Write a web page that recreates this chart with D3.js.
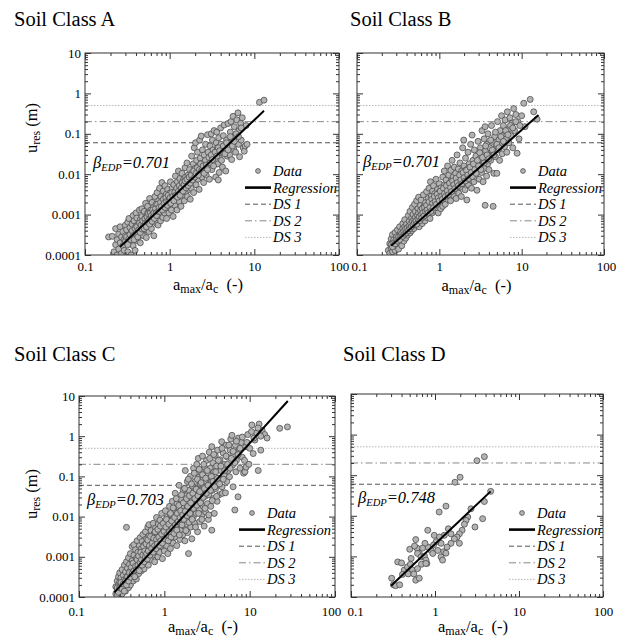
<!DOCTYPE html>
<html>
<head>
<meta charset="utf-8">
<script src="https://cdn.jsdelivr.net/npm/d3@7"></script>
<style>
  body { margin: 0; background: #fff; }
  svg { display: block; }
  svg text { font-family: "Liberation Serif", "Tinos", "Times New Roman", "DejaVu Serif", serif !important; }
</style>
</head>
<body>
<svg id="chart" width="625" height="640"></svg>
<script>
// ---- data ----
const panelNames = ["Soil Class A", "Soil Class B", "Soil Class C", "Soil Class D"];
const betaValues = ["0.701", "0.701", "0.703", "0.748"];
const xTickVals = [0.1, 1, 10, 100];
const xTickText = ["0.1", "1", "10", "100"];
const yTickVals = [0.0001, 0.001, 0.01, 0.1, 1, 10];
const yTickText = ["0.0001", "0.001", "0.01", "0.1", "1", "10"];
const dsLevels = [0.06, 0.2, 0.5];
const legendNames = ["Data", "Regression", "DS 1", "DS 2", "DS 3"];

// regression lines: [start, end]
const regA = [[0.26, 0.00016], [13, 0.37]];
const regB = [[0.26, 0.00017], [16, 0.29]];
const regC = [[0.26, 0.00013], [28, 7.5]];
const regD = [[0.30, 0.00019], [4.6, 0.04]];

const pointsA = [
  [0.19,0.00028],[0.21,0.00029],[0.22,0.00012],[0.23,0.00018],[0.23,0.00045],[0.24,0.0001],[0.24,0.00024],[0.25,0.00033],
  [0.25,0.00014],[0.26,0.0005],[0.26,0.0002],[0.27,0.00011],[0.27,0.00028],[0.28,0.00017],[0.28,0.00038],[0.29,0.00024],
  [0.29,0.00013],[0.3,0.00055],[0.3,0.0003],
  [0.31,0.0002],[0.31,0.00042],[0.32,0.00065],[0.32,0.00012],[0.33,0.00031],[0.33,0.0008],[0.34,0.00022],[0.34,0.00048],
  [0.35,0.0001],[0.35,0.00036],[0.36,0.00058],[0.36,0.00026],[0.37,0.00095],[0.37,0.00017],[0.38,0.0004],[0.38,0.0007],
  [0.39,0.0003],[0.39,0.00013],[0.4,0.00052],[0.4,0.0011],[0.41,0.00023],[0.41,0.00082],[0.42,0.00038],[0.43,0.0006],
  [0.43,0.00028],[0.44,0.0013],[0.44,0.00045],[0.45,0.00075],[0.45,0.0002],
  [0.46,0.00035],[0.47,0.0009],[0.47,0.0014],[0.48,0.00055],[0.49,0.0003],[0.5,0.0012],[0.5,0.00068],[0.51,0.00042],
  [0.52,0.0019],[0.52,0.00085],[0.53,0.00027],[0.54,0.0005],[0.55,0.0011],[0.55,0.0016],[0.56,0.0007],[0.57,0.00038],
  [0.58,0.0025],[0.58,0.00092],[0.59,0.0006],[0.6,0.0013],[0.61,0.00045],[0.62,0.002],[0.62,0.001],[0.63,0.00075],
  [0.64,0.0015],[0.65,0.0003],[0.66,0.0012],[0.67,0.0028],[0.68,0.0009],[0.69,0.0018],[0.7,0.0006],
  [0.71,0.0035],[0.72,0.0014],[0.73,0.00055],[0.74,0.0022],[0.75,0.001],[0.76,0.0045],[0.77,0.0017],[0.78,0.0007],
  [0.79,0.0028],[0.8,0.0013],[0.81,0.0062],[0.82,0.002],[0.83,0.00085],[0.84,0.0038],[0.85,0.0016],[0.86,0.0025],
  [0.87,0.0011],[0.88,0.0052],[0.9,0.0019],[0.91,0.0032],[0.92,0.0008],[0.94,0.0014],[0.95,0.0042],[0.96,0.0024],
  [0.98,0.0011],[1.0,0.0034],[1.0,0.0018],[1.02,0.0065],[1.04,0.0027],[1.05,0.0013],[1.07,0.0045],[1.08,0.002],[1.1,0.0009],
  [1.12,0.0055],[1.13,0.0028],[1.15,0.0017],[1.17,0.009],[1.18,0.004],[1.2,0.0024],[1.22,0.0013],[1.23,0.0065],
  [1.25,0.0034],[1.27,0.012],[1.29,0.0048],[1.3,0.0021],[1.32,0.0078],[1.34,0.0039],[1.36,0.0016],[1.38,0.0058],
  [1.4,0.0105],[1.42,0.003],[1.45,0.0072],[1.47,0.0046],[1.49,0.0022],[1.52,0.0145],[1.54,0.0085],[1.56,0.0036],
  [1.58,0.0055],[1.6,0.019],[1.62,0.0028],[1.65,0.0095],[1.67,0.0065],[1.7,0.0042],[1.72,0.013],[1.75,0.0024],[1.78,0.0078],
  [1.8,0.0045],[1.82,0.028],[1.85,0.011],[1.88,0.0068],[1.9,0.018],[1.92,0.0035],[1.95,0.045],[1.97,0.009],[2.0,0.014],
  [2.02,0.06],[2.05,0.0055],[2.08,0.022],[2.1,0.011],[2.13,0.035],[2.16,0.0075],[2.2,0.016],[2.23,0.0042],[2.26,0.07],
  [2.3,0.025],[2.33,0.012],[2.36,0.088],[2.4,0.0085],[2.44,0.04],[2.48,0.019],[2.52,0.0062],[2.56,0.03],[2.6,0.014],
  [2.65,0.055],[2.7,0.0095],[2.75,0.022],[2.8,0.095],[2.85,0.035],[2.9,0.016],[2.95,0.0075],
  [3.0,0.05],[3.05,0.028],[3.1,0.1],[3.15,0.013],[3.2,0.07],[3.25,0.04],[3.3,0.02],[3.35,0.12],[3.4,0.033],[3.5,0.0085],
  [3.55,0.06],[3.6,0.11],[3.65,0.045],[3.7,0.018],[3.75,0.0072],[3.8,0.08],[3.85,0.011],[3.9,0.025],[4.0,0.14],[4.05,0.055],
  [4.1,0.035],[4.2,0.015],[4.3,0.09],[4.4,0.165],[4.5,0.045],[4.6,0.012],[4.7,0.07],[4.8,0.028],[4.9,0.18],
  [5.0,0.06],[5.1,0.03],[5.2,0.11],[5.3,0.2],[5.4,0.023],[5.5,0.075],[5.6,0.27],[5.7,0.042],[5.8,0.15],[5.9,0.09],
  [6.0,0.035],[6.2,0.22],[6.4,0.33],[6.5,0.055],[6.6,0.12],[6.7,0.027],[6.9,0.18],[7.0,0.07],[7.2,0.25],[7.4,0.045],
  [7.6,0.037],[7.8,0.05],[8.0,0.16],[8.2,0.055],[11.5,0.6],[13,0.68],
  [0.3,0.00022],[0.31,0.00028],[0.32,0.00018],[0.33,0.00025],[0.34,0.00032],[0.35,0.00024],[0.36,0.0004],[0.37,0.0003],
  [0.38,0.00024],[0.39,0.00045],[0.4,0.00034],[0.41,0.0005],[0.42,0.00028],[0.43,0.00042],[0.44,0.00062],[0.45,0.00036],
  [0.46,0.00055],[0.47,0.00044],[0.48,0.0007],[0.49,0.00052],[0.5,0.00045],[0.51,0.00078],[0.52,0.00062],[0.53,0.0005],
  [0.54,0.00088],[0.55,0.00066],[0.56,0.00105],[0.57,0.00075],[0.58,0.00058],[0.59,0.0011],[0.6,0.0008],[0.61,0.00095],
  [0.62,0.00068],[0.63,0.0013],[0.64,0.00088],[0.65,0.0011],[0.66,0.0008],[0.68,0.0014],[0.69,0.0011],[0.7,0.00095],
  [0.72,0.0018],[0.73,0.0012],[0.75,0.0015],[0.76,0.0012],[0.78,0.002],[0.8,0.0016],[0.82,0.0013],[0.84,0.0024],
  [0.86,0.0019],[0.88,0.0015],[0.9,0.0026],[0.92,0.0021],[0.94,0.0017],[0.96,0.003],[0.98,0.0022],[1.01,0.0026],
  [1.03,0.0019],[1.06,0.0035],[1.09,0.0028],[1.12,0.0022],[1.15,0.0036],[1.18,0.003],[1.21,0.0045],[1.24,0.0027],
  [1.27,0.0038],[1.3,0.0052],[1.33,0.003],[1.37,0.0045],[1.41,0.0062],[1.44,0.0038],[1.48,0.0055],[1.52,0.0068],
  [1.56,0.0046],[1.6,0.0075],[1.65,0.0052],[1.7,0.0085],[1.75,0.006],[1.8,0.0095],[1.86,0.0072],[1.92,0.012],
  [1.98,0.0085],[2.05,0.0105],[2.12,0.0145],[2.18,0.0095],[2.25,0.013],[2.32,0.018],[2.4,0.0125],[2.48,0.016],
  [2.56,0.0105],[2.64,0.022],[2.72,0.017],[2.8,0.013],[2.9,0.026],[3.0,0.019],[3.1,0.03],[3.2,0.023],[3.3,0.016],
  [3.45,0.035],[3.6,0.028],[3.75,0.045],[3.9,0.038],[4.1,0.022],[4.3,0.05],[4.5,0.032],[4.7,0.06],[4.9,0.04],
  [5.2,0.085],[5.5,0.05],[5.8,0.065],[6.1,0.1],[6.5,0.085],[7.0,0.14]
];

const pointsB = [
  [0.24,0.00013],[0.25,0.00011],[0.25,0.00019],[0.26,0.00015],[0.26,0.00025],[0.27,0.00012],[0.27,0.0002],[0.27,0.00032],
  [0.28,0.00016],[0.28,0.00024],[0.29,0.00013],[0.29,0.00036],[0.3,0.0002],[0.3,0.00028],[0.31,0.00017],[0.31,0.00042],
  [0.32,0.00023],[0.32,0.00014],[0.33,0.00031],[0.33,0.0005],[0.34,0.00021],[0.34,0.00038],[0.35,0.00027],[0.35,0.00017],
  [0.36,0.00045],[0.36,0.0006],[0.37,0.00032],[0.37,0.00022],[0.38,0.0005],[0.38,0.00075],[0.39,0.00036],[0.39,0.00026],
  [0.4,0.00058],[0.4,0.00042],
  [0.41,0.00031],[0.42,0.00095],[0.42,0.00048],[0.43,0.00068],[0.44,0.00035],[0.44,0.0012],[0.45,0.00055],[0.46,0.00082],
  [0.46,0.0004],[0.47,0.0015],[0.48,0.00062],[0.48,0.001],[0.49,0.00045],[0.5,0.0018],[0.5,0.00072],[0.51,0.0012],
  [0.52,0.00055],[0.53,0.0009],[0.53,0.0022],[0.54,0.00065],[0.55,0.0014],[0.56,0.0027],[0.56,0.00085],[0.57,0.0005],
  [0.58,0.0011],[0.59,0.0017],[0.6,0.00075],[0.6,0.0023],[0.61,0.0013],[0.62,0.0006],[0.63,0.00095],[0.64,0.0031],
  [0.65,0.0016],[0.66,0.0011],[0.67,0.0007],[0.68,0.002],[0.69,0.0013],[0.7,0.0037],[0.7,0.00085],
  [0.72,0.0016],[0.73,0.0025],[0.74,0.0011],[0.75,0.0045],[0.76,0.0019],[0.77,0.0008],[0.78,0.0065],[0.79,0.0014],
  [0.8,0.0029],[0.81,0.0021],[0.82,0.0011],[0.83,0.0038],[0.84,0.0017],[0.85,0.0052],[0.86,0.0025],[0.87,0.0013],
  [0.88,0.0033],[0.9,0.002],[0.91,0.0075],[0.92,0.0028],[0.93,0.0015],[0.95,0.0042],[0.96,0.0023],[0.97,0.0011],
  [0.98,0.0035],[1.0,0.0019],[1.0,0.0058],[1.02,0.0027],[1.04,0.0014],[1.05,0.0046],[1.06,0.0033],[1.08,0.0021],
  [1.1,0.0085],[1.1,0.0016],
  [1.12,0.0038],[1.13,0.0025],[1.15,0.012],[1.16,0.0055],[1.18,0.0018],[1.2,0.0032],[1.21,0.0072],[1.23,0.0045],
  [1.25,0.0024],[1.26,0.016],[1.28,0.0036],[1.3,0.0095],[1.31,0.0058],[1.33,0.0028],[1.35,0.0042],[1.37,0.0022],
  [1.38,0.0125],[1.4,0.0068],[1.42,0.0035],[1.43,0.022],[1.45,0.0052],[1.47,0.0085],[1.49,0.003],[1.5,0.0046],
  [1.52,0.015],[1.54,0.0065],[1.56,0.0039],[1.58,0.0105],[1.6,0.0025],[1.62,0.0056],[1.64,0.03],[1.66,0.0078],
  [1.68,0.0045],[1.7,0.0135],[1.72,0.0034],[1.75,0.0065],[1.78,0.019],[1.8,0.0095],
  [1.82,0.0048],[1.85,0.0028],[1.87,0.012],[1.9,0.0075],[1.92,0.045],[1.95,0.0058],[1.98,0.07],[2.0,0.016],[2.02,0.0092],
  [2.05,0.0041],[2.08,0.025],[2.1,0.0068],[2.13,0.013],[2.16,0.0023],[2.2,0.0088],[2.23,0.035],[2.26,0.0055],[2.3,0.018],
  [2.33,0.011],[2.36,0.0072],[2.4,0.055],[2.43,0.015],[2.46,0.0045],[2.5,0.093],[2.53,0.0095],[2.56,0.022],[2.6,0.0125],
  [2.63,0.0065],[2.66,0.04],[2.7,0.016],[2.74,0.0085],[2.78,0.028],[2.82,0.011],[2.86,0.004],[2.9,0.019],[2.95,0.065],[3.0,0.0135],
  [3.05,0.0075],[3.1,0.024],[3.15,0.045],[3.2,0.017],[3.25,0.011],[3.3,0.12],[3.35,0.032],[3.4,0.0065],[3.45,0.021],
  [3.5,0.075],[3.55,0.014],[3.6,0.0017],[3.6,0.15],[3.65,0.038],[3.7,0.026],[3.75,0.009],[3.8,0.055],[3.85,0.018],
  [3.9,0.1],[3.95,0.03],[4.0,0.013],[4.1,0.045],[4.2,0.022],[4.3,0.16],[4.4,0.065],[4.5,0.0016],[4.5,0.035],[4.6,0.0105],
  [4.7,0.085],[4.8,0.027],[4.9,0.05],[5.0,0.0105],
  [5.1,0.2],[5.2,0.04],[5.3,0.07],[5.4,0.022],[5.5,0.12],[5.6,0.055],[5.7,0.28],[5.8,0.032],[5.9,0.09],[6.0,0.16],
  [6.2,0.048],[6.3,0.22],[6.5,0.075],[6.6,0.035],[6.7,0.35],[6.9,0.13],[7.0,0.06],[7.2,0.25],[7.4,0.09],[7.6,0.18],
  [7.8,0.045],[8.0,0.42],[8.2,0.12],[8.5,0.3],[8.8,0.033],[9.0,0.2],[9.3,0.075],
  [10,0.28],[10.6,0.57],[11,0.15],[12.7,0.71],[14,0.35],[15.4,0.23],
  [0.26,0.00018],[0.27,0.00016],[0.28,0.0002],[0.29,0.00019],[0.3,0.00024],[0.31,0.00022],[0.32,0.00028],[0.33,0.00024],
  [0.34,0.0003],[0.35,0.00034],[0.36,0.00029],[0.37,0.00038],[0.38,0.00033],[0.39,0.00044],[0.4,0.00036],[0.41,0.00048],
  [0.42,0.0004],[0.43,0.00052],[0.44,0.00045],[0.45,0.0006],[0.46,0.0005],[0.47,0.00068],[0.48,0.00056],[0.49,0.00075],
  [0.5,0.00062],[0.51,0.00085],[0.52,0.0007],[0.53,0.00058],[0.54,0.00095],[0.55,0.00078],[0.56,0.0011],[0.57,0.00088],
  [0.58,0.0007],[0.59,0.00125],[0.6,0.001],[0.61,0.00082],[0.62,0.0014],[0.63,0.0011],[0.65,0.00092],[0.66,0.0015],
  [0.68,0.0012],[0.7,0.0017],[0.71,0.0013],[0.73,0.0011],[0.75,0.0021],[0.77,0.0015],[0.79,0.0012],[0.81,0.0024],
  [0.83,0.0019],[0.85,0.0015],[0.87,0.0028],[0.89,0.0021],[0.92,0.0018],[0.94,0.0032],[0.97,0.0026],[1.0,0.0022],
  [1.03,0.0038],[1.06,0.0028],[1.09,0.0024],[1.12,0.0045],[1.15,0.0033],[1.18,0.0028],[1.22,0.0052],[1.25,0.0039],
  [1.29,0.0031],[1.33,0.006],[1.37,0.0046],[1.41,0.0037],[1.45,0.0068],[1.5,0.0055],[1.55,0.0044],[1.6,0.008],
  [1.65,0.0062],[1.7,0.0052],[1.76,0.0095],[1.82,0.0072],[1.88,0.0058],[1.94,0.011],[2.0,0.0082],[2.07,0.0068],
  [2.14,0.0125],[2.21,0.0095],[2.28,0.0078],[2.36,0.015],[2.44,0.011],[2.52,0.0088],[2.6,0.018],[2.7,0.013],
  [2.8,0.0105],[2.9,0.022],[3.0,0.016],[3.1,0.034],[3.2,0.013],[3.35,0.026],[3.5,0.019],[3.65,0.05],[3.8,0.03],
  [4.0,0.024],[4.2,0.07],[4.4,0.04],[4.6,0.03],[4.8,0.11],[5.0,0.055],[5.3,0.045],[5.6,0.085],[6.0,0.065],[6.4,0.12],
  [6.8,0.095],[7.3,0.16],[7.8,0.14],[8.5,0.2],[9.5,0.16]
];

const pointsC = [
  [0.27,0.00012],[0.27,0.00018],[0.28,0.00014],[0.28,0.00025],[0.28,0.00011],[0.29,0.0002],[0.29,0.00032],[0.29,0.00015],
  [0.3,0.00013],[0.3,0.00024],[0.3,0.0004],[0.31,0.00018],[0.31,0.0003],[0.32,0.00012],[0.32,0.00022],[0.32,0.00048],
  [0.33,0.00016],[0.33,0.00035],[0.34,0.00027],[0.34,0.00062],[0.34,0.00019],[0.35,0.00042],[0.35,0.00014],[0.36,0.0003],
  [0.36,0.00075],[0.36,0.0054],[0.37,0.00022],[0.37,0.00052],[0.38,0.00036],[0.38,0.00095],[0.38,0.00017],[0.39,0.00065],
  [0.39,0.00028],[0.4,0.00045],[0.4,0.0012],[0.4,0.0002],
  [0.41,0.00034],[0.42,0.0018],[0.42,0.0008],[0.43,0.00025],[0.43,0.00055],[0.44,0.002],[0.44,0.0011],[0.45,0.0004],
  [0.45,0.0007],[0.46,0.0015],[0.47,0.00028],[0.47,0.00092],[0.48,0.0025],[0.48,0.0005],[0.49,0.0013],[0.5,0.00038],
  [0.5,0.0008],[0.51,0.0019],[0.52,0.0006],[0.52,0.003],[0.53,0.0011],[0.54,0.00045],[0.54,0.0016],[0.55,0.0024],
  [0.56,0.00072],[0.56,0.0036],[0.57,0.0013],[0.58,0.0005],[0.58,0.002],[0.59,0.00095],[0.6,0.0042],[0.6,0.0015],
  [0.61,0.0007],[0.62,0.0028],[0.63,0.0011],[0.64,0.0055],[0.64,0.0018],[0.65,0.00062],[0.66,0.0063],[0.66,0.0033],
  [0.67,0.0013],[0.68,0.0023],[0.69,0.00085],[0.7,0.0045],[0.7,0.0016],
  [0.72,0.0028],[0.73,0.0011],[0.74,0.0068],[0.75,0.0019],[0.76,0.0038],[0.77,0.00075],[0.78,0.0014],[0.79,0.0052],
  [0.8,0.0025],[0.81,0.0095],[0.82,0.0017],[0.83,0.0033],[0.84,0.001],[0.85,0.0065],[0.86,0.0022],[0.87,0.0042],
  [0.88,0.0013],[0.89,0.0082],[0.9,0.003],[0.92,0.0018],[0.93,0.012],[0.94,0.0055],[0.95,0.0009],[0.96,0.0036],
  [0.98,0.0025],[1.0,0.0072],[1.0,0.0014],[1.02,0.0045],[1.03,0.014],[1.04,0.0031],[1.06,0.0019],[1.07,0.0095],
  [1.08,0.0058],[1.1,0.0012],[1.1,0.0038],
  [1.12,0.0075],[1.13,0.0025],[1.15,0.018],[1.16,0.0048],[1.18,0.0016],[1.19,0.011],[1.21,0.0062],[1.22,0.0034],
  [1.24,0.024],[1.25,0.0085],[1.27,0.0022],[1.28,0.0045],[1.3,0.015],[1.31,0.0068],[1.33,0.0031],[1.34,0.038],
  [1.36,0.011],[1.38,0.0052],[1.4,0.0019],[1.41,0.021],[1.43,0.0085],[1.45,0.0038],[1.47,0.013],[1.49,0.06],
  [1.5,0.0065],[1.52,0.0027],[1.54,0.028],[1.56,0.0098],[1.58,0.0048],[1.6,0.017],[1.62,0.0075],[1.64,0.0035],
  [1.66,0.045],[1.68,0.012],[1.7,0.0058],[1.72,0.022],[1.74,0.0025],[1.76,0.14],[1.77,0.009],[1.8,0.033],
  [1.82,0.0065],[1.84,0.015],[1.86,0.075],[1.88,0.004],[1.9,0.024],[1.92,0.0012],[1.93,0.011],[1.95,0.045],[1.97,0.0085],
  [2.0,0.018],[2.02,0.1],[2.04,0.0055],[2.06,0.03],[2.08,0.013],[2.1,0.0028],[2.12,0.058],[2.15,0.021],[2.18,0.0095],
  [2.2,0.16],[2.22,0.04],[2.25,0.016],[2.28,0.0068],[2.3,0.075],[2.33,0.027],[2.36,0.012],[2.4,0.2],[2.42,0.05],
  [2.45,0.0042],[2.48,0.022],[2.5,0.28],[2.52,0.095],[2.55,0.035],[2.58,0.015],[2.6,0.0075],[2.63,0.065],[2.66,0.13],
  [2.7,0.025],[2.73,0.045],[2.76,0.011],[2.8,0.32],[2.83,0.085],[2.86,0.018],[2.9,0.055],[2.93,0.0058],[2.96,0.17],[3.0,0.032],
  [3.05,0.013],[3.08,0.075],[3.12,0.25],[3.15,0.045],[3.2,0.021],[3.24,0.12],[3.28,0.0085],[3.32,0.035],[3.36,0.4],
  [3.4,0.065],[3.45,0.16],[3.5,0.018],[3.55,0.095],[3.6,0.0046],[3.6,0.55],[3.65,0.045],[3.7,0.22],[3.75,0.028],
  [3.8,0.13],[3.85,0.012],[3.9,0.075],[3.95,0.33],[4.0,0.05],[4.1,0.18],[4.15,0.024],[4.2,0.45],[4.3,0.09],[4.4,0.035],
  [4.5,0.26],[4.6,0.14],[4.7,0.73],[4.75,0.055],[4.8,0.038],[4.9,0.38],[5.0,0.11],
  [5.1,0.2],[5.2,0.039],[5.3,0.6],[5.4,0.075],[5.5,0.3],[5.6,0.14],[5.8,0.098],[5.9,0.45],[6.0,0.85],[6.2,1.05],
  [6.3,0.19],[6.4,0.055],[6.5,0.35],[6.7,0.0146],[6.8,0.6],[6.9,0.13],[7.0,0.25],[7.3,0.031],[7.4,0.9],[7.5,0.45],
  [7.7,0.16],[8.0,0.7],[8.2,0.3],[8.5,0.12],[8.8,0.13],[9.0,0.55],[9.1,0.17],[9.5,1.1],[9.8,0.2],
  [10.6,1.9],[11,0.37],[11.5,0.8],[12,1.2],[12.6,0.14],[12.9,2.0],[13.5,0.45],[14,1.4],[15,1.1],[16,0.9],
  [22.5,1.57],[27.7,1.7],
  [0.28,0.00017],[0.29,0.00013],[0.3,0.00017],[0.31,0.00023],[0.32,0.00016],[0.33,0.00021],[0.34,0.00014],[0.35,0.00025],
  [0.36,0.0002],[0.37,0.00032],[0.38,0.00025],[0.39,0.0004],[0.4,0.00031],[0.41,0.00055],[0.42,0.00038],[0.43,0.0007],
  [0.44,0.00045],[0.45,0.00032],[0.46,0.00058],[0.47,0.00048],[0.48,0.00085],[0.49,0.00062],[0.5,0.00105],[0.51,0.00045],
  [0.52,0.00072],[0.53,0.0013],[0.54,0.00085],[0.55,0.00062],[0.56,0.0011],[0.57,0.0018],[0.58,0.00075],[0.59,0.0014],
  [0.6,0.001],[0.61,0.0021],[0.62,0.0012],[0.63,0.00088],[0.64,0.0026],[0.65,0.0014],[0.67,0.0019],[0.68,0.0011],
  [0.69,0.0032],[0.71,0.0016],[0.72,0.0022],[0.74,0.0013],[0.75,0.0029],[0.77,0.0019],[0.78,0.0042],[0.8,0.0016],
  [0.81,0.0027],[0.83,0.0021],[0.84,0.0048],[0.86,0.0031],[0.88,0.0019],[0.9,0.0058],[0.91,0.0025],[0.93,0.0037],
  [0.95,0.0022],[0.97,0.0068],[0.99,0.0043],[1.01,0.0028],[1.04,0.0055],[1.06,0.0085],[1.08,0.0036],[1.11,0.0025],
  [1.13,0.0065],[1.15,0.0042],[1.18,0.012],[1.2,0.0031],[1.22,0.0078],[1.25,0.0052],[1.27,0.0165],[1.3,0.0038],
  [1.32,0.0095],[1.35,0.0062],[1.38,0.028],[1.4,0.0046],[1.42,0.012],[1.45,0.0075],[1.48,0.019],[1.5,0.0035],
  [1.53,0.0095],[1.56,0.014],[1.59,0.035],[1.61,0.0062],[1.64,0.011],[1.67,0.022],[1.7,0.0085],[1.73,0.05],
  [1.76,0.0135],[1.79,0.0045],[1.82,0.028],[1.85,0.0105],[1.88,0.018],[1.91,0.085],[1.94,0.0072],[1.97,0.033],
  [2.0,0.012],[2.04,0.022],[2.08,0.065],[2.12,0.0085],[2.16,0.038],[2.2,0.016],[2.24,0.12],[2.28,0.028],[2.32,0.0055],
  [2.36,0.048],[2.4,0.019],[2.44,0.085],[2.48,0.033],[2.52,0.012],[2.56,0.15],[2.6,0.042],[2.65,0.022],[2.7,0.07],
  [2.75,0.0085],[2.8,0.11],[2.85,0.03],[2.9,0.2],[2.95,0.05],[3.0,0.016],[3.05,0.09],[3.1,0.038],[3.18,0.14],[3.25,0.06],
  [3.32,0.011],[3.4,0.28],[3.48,0.045],[3.56,0.1],[3.64,0.025],[3.72,0.075],[3.8,0.35],[3.9,0.055],[4.0,0.13],[4.1,0.032],
  [4.2,0.09],[4.3,0.25],[4.45,0.065],[4.6,0.18],[4.75,0.5],[4.9,0.085],[5.1,0.14],[5.3,0.32],[5.5,0.2],[5.7,0.6],
  [5.9,0.16],[6.1,0.28],[6.4,0.42],[6.7,0.22],[7.0,0.75],[7.3,0.35],[7.7,0.5],[8.2,0.95],[8.7,0.25],[9.3,0.7],
  [10,0.5],[10.5,1.3],[11.2,0.9],[12.5,1.6],[13.5,1.0]
];

const pointsD = [
  [3.16,0.228],[3.87,0.286],[1.73,0.067],[1.99,0.089],[4.6,0.04],[3.87,0.0225],[1.12,0.0124],[1.35,0.0173],
  [2.68,0.0149],[2.45,0.0093],[2.34,0.0077],[2.24,0.0062],[3.69,0.0085],[2.99,0.0053],[2.1,0.0044],[1.95,0.0036],
  [1.83,0.003],[1.7,0.0027],[1.55,0.0021],[1.95,0.0021],[1.44,0.0048],[1.29,0.0033],[1.55,0.0036],
  [0.82,0.0044],[0.98,0.0033],[1.13,0.003],[1.18,0.0021],[1.03,0.0023],[0.96,0.0019],[0.9,0.0014],[0.82,0.0017],
  [0.76,0.0021],[0.71,0.0016],[0.65,0.0012],[0.61,0.0016],[0.57,0.0018],[0.59,0.0026],[0.5,0.0015],[0.52,0.00089],
  [0.62,0.00118],[0.68,0.00097],[0.75,0.00101],[0.8,0.00067],[0.69,0.00064],[0.78,0.00081],[0.94,0.00118],
  [1.08,0.0014],[1.18,0.00097],[1.23,0.00081],[1.27,0.0013],[1.35,0.0012],[1.39,0.0017],
  [0.36,0.00073],[0.4,0.00069],[0.43,0.00046],[0.47,0.00055],[0.51,0.00064],[0.54,0.00046],[0.48,0.00037],
  [0.56,0.00037],[0.62,0.0005],[0.59,0.00026],[0.65,0.00029],[0.78,0.00067],[0.41,0.00036],[0.305,0.00029],
  [0.32,0.0002],[0.34,0.00019],[0.38,0.0002]
];

const pointSets = [pointsA, pointsB, pointsC, pointsD];
const regLines = [regA, regB, regC, regD];

// ---- layout ----
const layout = [
  { x0: 85,  x1: 339, y0: 53,  y1: 255, tx: 14,  ty: 26,  pad: 7,  xlabY: 290, yLab: [31.5, 128], beta: [93, 168],  leg: [273, 171], lx: [0, 0] },
  { x0: 357, x1: 604, y0: 53,  y1: 255, tx: 350, ty: 26,  pad: 7,  xlabY: 291, yLab: null,        beta: [363, 167], leg: [538, 171], lx: [2, 2] },
  { x0: 79,  x1: 335, y0: 396, y1: 597, tx: 14,  ty: 361, pad: 10, xlabY: 632, yLab: [31.5, 494], beta: [87, 505],  leg: [267, 513], lx: [-3, -4] },
  { x0: 351, x1: 603, y0: 394, y1: 597, tx: 343, ty: 361, pad: 10, xlabY: 632, yLab: null,        beta: [358, 503], leg: [537, 513], lx: [4, 0] }
];

const dsStyle = [
  { stroke: "#555", dash: "5,3" },
  { stroke: "#888", dash: "7,3,1.5,3" },
  { stroke: "#b5b5b5", dash: "1.5,1.5" }
];

const svg = d3.select("#chart");
const xMinor = xTickVals.slice(0, -1).flatMap(m => d3.range(2, 10).map(k => m * k));
const yMinor = yTickVals.slice(0, -1).flatMap(m => d3.range(2, 10).map(k => m * k));

layout.forEach((L, i) => {
  const x = d3.scaleLog().domain([0.1, 100]).range([L.x0, L.x1]);
  const y = d3.scaleLog().domain([0.0001, 10]).range([L.y1, L.y0]);
  const g = svg.append("g");

  // title
  g.append("text").attr("x", L.tx).attr("y", L.ty)
    .attr("font-size", 20.5).attr("fill", "#000").text(panelNames[i]);

  const clipId = "clip" + i;
  svg.append("clipPath").attr("id", clipId).append("rect")
    .attr("x", L.x0).attr("y", L.y0).attr("width", L.x1 - L.x0).attr("height", L.y1 - L.y0);
  const plot = g.append("g").attr("clip-path", `url(#${clipId})`);

  // damage state thresholds
  dsLevels.forEach((v, k) => {
    plot.append("line")
      .attr("x1", L.x0).attr("x2", L.x1).attr("y1", y(v)).attr("y2", y(v))
      .attr("stroke", dsStyle[k].stroke).attr("stroke-width", 1)
      .attr("stroke-dasharray", dsStyle[k].dash);
  });

  // data points
  plot.selectAll("circle").data(pointSets[i]).join("circle")
    .attr("cx", d => x(d[0])).attr("cy", d => y(d[1])).attr("r", 3)
    .attr("fill", "#b3b3b3").attr("stroke", "#4d4d4d").attr("stroke-width", 0.8);

  // regression
  plot.append("path").datum(regLines[i])
    .attr("d", d3.line().x(d => x(d[0])).y(d => y(d[1])))
    .attr("stroke", "#000").attr("stroke-width", 2).attr("fill", "none");

  // axes: inward ticks on all four sides
  const addAxis = (axis, tx, ty) => {
    const a = g.append("g").attr("transform", `translate(${tx},${ty})`).call(axis);
    a.select(".domain").remove();
    a.selectAll("line").attr("stroke", "#333");
    a.selectAll("text").attr("font-size", 13).attr("fill", "#000");
    return a;
  };
  addAxis(d3.axisBottom(x).tickValues(xMinor).tickSize(-3).tickFormat(""), 0, L.y1);
  addAxis(d3.axisTop(x).tickValues(xMinor).tickSize(-3).tickFormat(""), 0, L.y0);
  addAxis(d3.axisLeft(y).tickValues(yMinor).tickSize(-3).tickFormat(""), L.x0, 0);
  addAxis(d3.axisRight(y).tickValues(yMinor).tickSize(-3).tickFormat(""), L.x1, 0);
  const xb = addAxis(d3.axisBottom(x).tickValues(xTickVals).tickSize(-6).tickPadding(L.pad)
    .tickFormat((d, j) => xTickText[j]), 0, L.y1);
  xb.selectAll("text").attr("dx", (d, j) => j === 0 ? L.lx[0] : (j === xTickVals.length - 1 ? L.lx[1] : 0));
  addAxis(d3.axisTop(x).tickValues(xTickVals).tickSize(-6).tickFormat(""), 0, L.y0);
  addAxis(d3.axisLeft(y).tickValues(yTickVals).tickSize(-6).tickPadding(4)
    .tickFormat((d, j) => L.yLab ? yTickText[j] : ""), L.x0, 0);
  addAxis(d3.axisRight(y).tickValues(yTickVals).tickSize(-6).tickFormat(""), L.x1, 0);

  // frame
  g.append("rect").attr("x", L.x0).attr("y", L.y0)
    .attr("width", L.x1 - L.x0).attr("height", L.y1 - L.y0)
    .attr("fill", "none").attr("stroke", "#333").attr("stroke-width", 1);

  // x-axis title
  const xt = g.append("text").attr("x", (L.x0 + L.x1) / 2 - 4).attr("y", L.xlabY)
    .attr("text-anchor", "middle").attr("font-size", 16.5);
  xt.append("tspan").text("a");
  xt.append("tspan").attr("font-size", 12).attr("dy", 3).text("max");
  xt.append("tspan").attr("dy", -3).text("/a");
  xt.append("tspan").attr("font-size", 12).attr("dy", 3).text("c");
  xt.append("tspan").attr("dy", -3).text("\u00a0\u00a0(-)");

  // y-axis title
  if (L.yLab) {
    const yt = g.append("text")
      .attr("transform", `translate(${L.yLab[0] + 5},${L.yLab[1]}) rotate(-90)`)
      .attr("text-anchor", "middle").attr("font-size", 16.5);
    yt.append("tspan").text("u");
    yt.append("tspan").attr("font-size", 12).attr("dy", 3).text("res");
    yt.append("tspan").attr("dy", -3).text(" (m)");
  }

  // beta label
  const bt = g.append("text").attr("x", L.beta[0]).attr("y", L.beta[1])
    .attr("font-size", 16.5).attr("font-style", "italic");
  bt.append("tspan").text("\u03b2");
  bt.append("tspan").attr("font-size", 10.5).attr("dy", 3).text("EDP");
  bt.append("tspan").attr("dy", -3).text("=" + betaValues[i]);

  // legend
  const lg = g.append("g");
  legendNames.forEach((name, k) => {
    const ry = L.leg[1] + k * 16.6;
    if (k === 0) {
      lg.append("circle").attr("cx", L.leg[0] - 15).attr("cy", ry).attr("r", 2.4)
        .attr("fill", "#b3b3b3").attr("stroke", "#4d4d4d").attr("stroke-width", 0.8);
    } else if (k === 1) {
      lg.append("line").attr("x1", L.leg[0] - 28).attr("x2", L.leg[0] - 2)
        .attr("y1", ry).attr("y2", ry).attr("stroke", "#000").attr("stroke-width", 2.6);
    } else {
      const s = dsStyle[k - 2];
      lg.append("line").attr("x1", L.leg[0] - 28).attr("x2", L.leg[0] - 2)
        .attr("y1", ry).attr("y2", ry).attr("stroke", s.stroke).attr("stroke-width", 1)
        .attr("stroke-dasharray", s.dash);
    }
    lg.append("text").attr("x", L.leg[0]).attr("y", ry + 5)
      .attr("font-size", 14.5).attr("font-style", "italic").text(name);
  });
});
</script>
</body>
</html>
